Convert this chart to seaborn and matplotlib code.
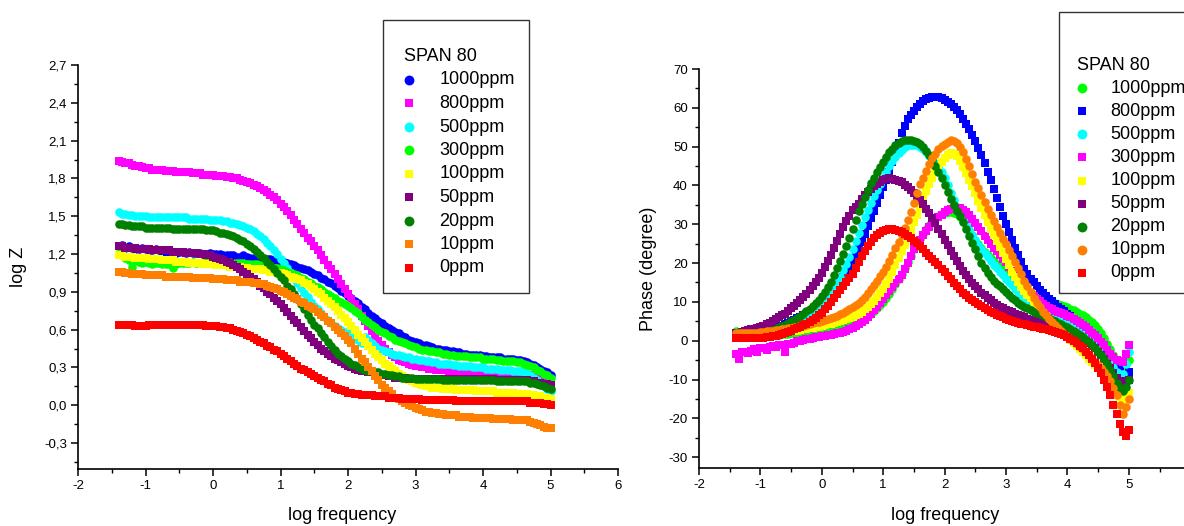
import numpy as np
import pandas as pd
import matplotlib
matplotlib.use("Agg")
import matplotlib.pyplot as plt
import seaborn as sns
from matplotlib.ticker import MultipleLocator, FuncFormatter
from matplotlib.patches import Rectangle

sns.set_theme(style="ticks")
plt.rcParams['font.family'] = ['Liberation Sans', 'DejaVu Sans']
plt.rcParams['axes.unicode_minus'] = False

# ---------------- data ----------------
log_freq = [-1.40, -1.35, -1.30, -1.25, -1.20, -1.15, -1.10, -1.05, -1.00, -0.95,
            -0.90, -0.85, -0.80, -0.75, -0.70, -0.65, -0.60, -0.55, -0.50, -0.45,
            -0.40, -0.35, -0.30, -0.25, -0.20, -0.15, -0.10, -0.05, 0.00, 0.05,
            0.10, 0.15, 0.20, 0.25, 0.30, 0.35, 0.40, 0.45, 0.50, 0.55,
            0.60, 0.65, 0.70, 0.75, 0.80, 0.85, 0.90, 0.95, 1.00, 1.05,
            1.10, 1.15, 1.20, 1.25, 1.30, 1.35, 1.40, 1.45, 1.50, 1.55,
            1.60, 1.65, 1.70, 1.75, 1.80, 1.85, 1.90, 1.95, 2.00, 2.05,
            2.10, 2.15, 2.20, 2.25, 2.30, 2.35, 2.40, 2.45, 2.50, 2.55,
            2.60, 2.65, 2.70, 2.75, 2.80, 2.85, 2.90, 2.95, 3.00, 3.05,
            3.10, 3.15, 3.20, 3.25, 3.30, 3.35, 3.40, 3.45, 3.50, 3.55,
            3.60, 3.65, 3.70, 3.75, 3.80, 3.85, 3.90, 3.95, 4.00, 4.05,
            4.10, 4.15, 4.20, 4.25, 4.30, 4.35, 4.40, 4.45, 4.50, 4.55,
            4.60, 4.65, 4.70, 4.75, 4.80, 4.85, 4.90, 4.95, 5.00]

concentrations = ["1000ppm", "800ppm", "500ppm", "300ppm", "100ppm",
                  "50ppm", "20ppm", "10ppm", "0ppm"]

# ---- log Z (left panel) ----
logz_1000 = [1.26, 1.27, 1.25, 1.26, 1.25, 1.24, 1.24, 1.25, 1.24, 1.23,
             1.23, 1.24, 1.23, 1.22, 1.22, 1.23, 1.22, 1.21, 1.22, 1.22,
             1.21, 1.22, 1.21, 1.21, 1.21, 1.20, 1.20, 1.21, 1.20, 1.20,
             1.20, 1.19, 1.19, 1.19, 1.19, 1.18, 1.18, 1.19, 1.18, 1.17,
             1.17, 1.17, 1.17, 1.16, 1.16, 1.16, 1.15, 1.15, 1.14, 1.14,
             1.13, 1.12, 1.11, 1.10, 1.09, 1.08, 1.07, 1.06, 1.04, 1.03,
             1.01, 1.00, 0.98, 0.97, 0.95, 0.93, 0.91, 0.89, 0.87, 0.85,
             0.83, 0.81, 0.78, 0.76, 0.73, 0.71, 0.69, 0.67, 0.65, 0.63,
             0.61, 0.60, 0.58, 0.57, 0.55, 0.54, 0.52, 0.51, 0.50, 0.49,
             0.48, 0.48, 0.47, 0.46, 0.45, 0.45, 0.44, 0.44, 0.43, 0.43,
             0.42, 0.42, 0.41, 0.41, 0.40, 0.40, 0.40, 0.40, 0.39, 0.39,
             0.38, 0.38, 0.38, 0.38, 0.37, 0.37, 0.37, 0.37, 0.36, 0.36,
             0.35, 0.34, 0.33, 0.32, 0.30, 0.29, 0.27, 0.26, 0.24]
logz_800 = [1.94, 1.93, 1.92, 1.92, 1.91, 1.90, 1.90, 1.89, 1.88, 1.88,
            1.87, 1.87, 1.87, 1.87, 1.86, 1.86, 1.86, 1.85, 1.85, 1.85,
            1.85, 1.85, 1.84, 1.84, 1.84, 1.83, 1.83, 1.83, 1.83, 1.82,
            1.82, 1.82, 1.81, 1.81, 1.80, 1.80, 1.79, 1.78, 1.77, 1.76,
            1.75, 1.74, 1.72, 1.71, 1.69, 1.67, 1.65, 1.63, 1.60, 1.57,
            1.54, 1.51, 1.47, 1.44, 1.40, 1.37, 1.33, 1.30, 1.26, 1.23,
            1.19, 1.15, 1.11, 1.08, 1.04, 1.00, 0.96, 0.92, 0.88, 0.84,
            0.80, 0.76, 0.71, 0.67, 0.63, 0.59, 0.55, 0.51, 0.48, 0.45,
            0.42, 0.40, 0.38, 0.36, 0.35, 0.34, 0.33, 0.32, 0.31, 0.31,
            0.30, 0.30, 0.29, 0.29, 0.28, 0.28, 0.28, 0.28, 0.27, 0.27,
            0.27, 0.27, 0.27, 0.27, 0.26, 0.26, 0.26, 0.26, 0.26, 0.26,
            0.26, 0.26, 0.25, 0.25, 0.25, 0.25, 0.25, 0.25, 0.25, 0.25,
            0.24, 0.24, 0.24, 0.24, 0.23, 0.22, 0.21, 0.20, 0.19]
logz_500 = [1.53, 1.52, 1.52, 1.51, 1.51, 1.50, 1.50, 1.50, 1.50, 1.49,
            1.49, 1.49, 1.49, 1.49, 1.49, 1.49, 1.49, 1.49, 1.49, 1.49,
            1.49, 1.48, 1.48, 1.48, 1.48, 1.48, 1.48, 1.47, 1.47, 1.47,
            1.47, 1.46, 1.46, 1.45, 1.45, 1.44, 1.43, 1.42, 1.41, 1.40,
            1.38, 1.36, 1.34, 1.32, 1.29, 1.26, 1.23, 1.20, 1.16, 1.13,
            1.09, 1.05, 1.01, 0.97, 0.93, 0.89, 0.86, 0.82, 0.79, 0.76,
            0.73, 0.70, 0.68, 0.65, 0.63, 0.61, 0.60, 0.58, 0.57, 0.56,
            0.55, 0.52, 0.49, 0.54, 0.52, 0.49, 0.47, 0.45, 0.44, 0.43,
            0.42, 0.41, 0.40, 0.40, 0.39, 0.38, 0.38, 0.37, 0.37, 0.36,
            0.36, 0.35, 0.35, 0.34, 0.34, 0.33, 0.33, 0.33, 0.33, 0.32,
            0.32, 0.31, 0.31, 0.31, 0.31, 0.30, 0.30, 0.30, 0.30, 0.29,
            0.29, 0.29, 0.29, 0.28, 0.28, 0.28, 0.28, 0.27, 0.27, 0.27,
            0.26, 0.25, 0.24, 0.22, 0.20, 0.17, 0.15, 0.13, 0.11]
logz_300 = [1.21, 1.19, 1.17, 1.15, 1.10, 1.15, 1.14, 1.13, 1.14, 1.13,
            1.12, 1.13, 1.13, 1.12, 1.12, 1.12, 1.09, 1.12, 1.13, 1.13,
            1.13, 1.13, 1.14, 1.13, 1.13, 1.14, 1.14, 1.14, 1.14, 1.14,
            1.14, 1.14, 1.14, 1.14, 1.13, 1.13, 1.13, 1.13, 1.12, 1.12,
            1.12, 1.12, 1.11, 1.11, 1.10, 1.10, 1.09, 1.09, 1.08, 1.07,
            1.06, 1.05, 1.04, 1.03, 1.01, 1.00, 0.98, 0.97, 0.95, 0.94,
            0.92, 0.90, 0.88, 0.87, 0.85, 0.83, 0.82, 0.80, 0.79, 0.77,
            0.75, 0.73, 0.70, 0.68, 0.66, 0.64, 0.62, 0.60, 0.58, 0.57,
            0.55, 0.54, 0.52, 0.51, 0.50, 0.49, 0.48, 0.47, 0.46, 0.45,
            0.44, 0.44, 0.43, 0.43, 0.42, 0.42, 0.41, 0.41, 0.40, 0.40,
            0.39, 0.39, 0.39, 0.39, 0.38, 0.38, 0.38, 0.38, 0.37, 0.37,
            0.37, 0.37, 0.36, 0.36, 0.35, 0.35, 0.35, 0.35, 0.34, 0.34,
            0.33, 0.32, 0.31, 0.30, 0.28, 0.27, 0.25, 0.24, 0.22]
logz_100 = [1.19, 1.19, 1.18, 1.18, 1.18, 1.17, 1.17, 1.17, 1.17, 1.16,
            1.16, 1.16, 1.16, 1.15, 1.15, 1.15, 1.15, 1.14, 1.14, 1.14,
            1.14, 1.13, 1.13, 1.13, 1.13, 1.12, 1.12, 1.12, 1.12, 1.11,
            1.11, 1.11, 1.11, 1.10, 1.10, 1.10, 1.10, 1.09, 1.09, 1.08,
            1.08, 1.08, 1.08, 1.07, 1.07, 1.06, 1.06, 1.05, 1.05, 1.04,
            1.03, 1.02, 1.01, 1.00, 0.99, 0.97, 0.96, 0.94, 0.92, 0.90,
            0.88, 0.85, 0.83, 0.80, 0.78, 0.75, 0.72, 0.69, 0.66, 0.63,
            0.60, 0.56, 0.53, 0.50, 0.47, 0.44, 0.41, 0.38, 0.36, 0.33,
            0.31, 0.29, 0.27, 0.25, 0.23, 0.21, 0.20, 0.19, 0.18, 0.17,
            0.16, 0.15, 0.15, 0.14, 0.14, 0.14, 0.13, 0.13, 0.13, 0.13,
            0.12, 0.12, 0.12, 0.12, 0.12, 0.12, 0.11, 0.11, 0.11, 0.11,
            0.11, 0.11, 0.10, 0.10, 0.10, 0.10, 0.10, 0.10, 0.09, 0.09,
            0.09, 0.09, 0.08, 0.08, 0.07, 0.07, 0.06, 0.06, 0.05]
logz_50 = [1.26, 1.26, 1.25, 1.25, 1.25, 1.25, 1.24, 1.24, 1.24, 1.24,
           1.23, 1.23, 1.23, 1.23, 1.23, 1.23, 1.22, 1.22, 1.22, 1.22,
           1.21, 1.21, 1.21, 1.21, 1.20, 1.20, 1.19, 1.19, 1.18, 1.17,
           1.16, 1.15, 1.14, 1.13, 1.11, 1.10, 1.08, 1.06, 1.04, 1.02,
           1.00, 0.98, 0.95, 0.93, 0.90, 0.88, 0.85, 0.83, 0.80, 0.77,
           0.74, 0.71, 0.68, 0.65, 0.62, 0.59, 0.56, 0.53, 0.50, 0.48,
           0.45, 0.43, 0.41, 0.39, 0.37, 0.36, 0.34, 0.33, 0.31, 0.30,
           0.29, 0.28, 0.27, 0.27, 0.26, 0.26, 0.25, 0.25, 0.24, 0.24,
           0.23, 0.23, 0.22, 0.22, 0.22, 0.22, 0.21, 0.21, 0.21, 0.21,
           0.21, 0.21, 0.21, 0.21, 0.21, 0.21, 0.21, 0.21, 0.21, 0.21,
           0.21, 0.21, 0.21, 0.21, 0.21, 0.21, 0.21, 0.21, 0.21, 0.21,
           0.21, 0.21, 0.20, 0.20, 0.20, 0.20, 0.20, 0.20, 0.20, 0.20,
           0.20, 0.20, 0.19, 0.19, 0.18, 0.18, 0.17, 0.17, 0.16]
logz_20 = [1.44, 1.44, 1.43, 1.43, 1.42, 1.42, 1.42, 1.42, 1.41, 1.41,
           1.41, 1.41, 1.41, 1.41, 1.41, 1.41, 1.40, 1.40, 1.40, 1.40,
           1.40, 1.40, 1.40, 1.40, 1.40, 1.40, 1.39, 1.39, 1.39, 1.38,
           1.37, 1.37, 1.36, 1.35, 1.34, 1.33, 1.31, 1.30, 1.28, 1.26,
           1.24, 1.22, 1.19, 1.17, 1.14, 1.11, 1.08, 1.05, 1.02, 0.99,
           0.95, 0.92, 0.88, 0.84, 0.80, 0.76, 0.72, 0.68, 0.64, 0.61,
           0.57, 0.54, 0.50, 0.47, 0.44, 0.41, 0.39, 0.37, 0.35, 0.33,
           0.32, 0.30, 0.29, 0.28, 0.27, 0.27, 0.26, 0.26, 0.25, 0.25,
           0.24, 0.24, 0.23, 0.23, 0.22, 0.22, 0.22, 0.22, 0.21, 0.21,
           0.21, 0.21, 0.21, 0.21, 0.21, 0.21, 0.20, 0.20, 0.20, 0.20,
           0.20, 0.20, 0.20, 0.20, 0.20, 0.20, 0.20, 0.20, 0.20, 0.20,
           0.20, 0.20, 0.19, 0.19, 0.19, 0.19, 0.19, 0.19, 0.19, 0.19,
           0.19, 0.19, 0.18, 0.18, 0.17, 0.16, 0.15, 0.14, 0.13]
logz_10 = [1.06, 1.06, 1.05, 1.05, 1.04, 1.04, 1.04, 1.04, 1.03, 1.03,
           1.03, 1.03, 1.03, 1.03, 1.02, 1.02, 1.02, 1.02, 1.02, 1.02,
           1.02, 1.02, 1.01, 1.01, 1.01, 1.01, 1.01, 1.01, 1.00, 1.00,
           1.00, 1.00, 0.99, 0.99, 0.99, 0.99, 0.98, 0.98, 0.98, 0.98,
           0.97, 0.97, 0.96, 0.96, 0.95, 0.94, 0.93, 0.92, 0.91, 0.90,
           0.88, 0.87, 0.85, 0.84, 0.82, 0.81, 0.79, 0.78, 0.76, 0.74,
           0.72, 0.70, 0.67, 0.65, 0.62, 0.60, 0.57, 0.55, 0.52, 0.49,
           0.45, 0.41, 0.37, 0.34, 0.30, 0.27, 0.23, 0.20, 0.16, 0.14,
           0.11, 0.09, 0.06, 0.05, 0.03, 0.02, 0.00, -0.01, -0.02, -0.03,
           -0.04, -0.05, -0.05, -0.06, -0.06, -0.07, -0.07, -0.08, -0.08, -0.08,
           -0.08, -0.09, -0.09, -0.09, -0.09, -0.10, -0.10, -0.10, -0.10, -0.10,
           -0.10, -0.11, -0.11, -0.11, -0.11, -0.11, -0.11, -0.12, -0.12, -0.12,
           -0.12, -0.12, -0.13, -0.14, -0.15, -0.16, -0.17, -0.18, -0.18]
logz_0 = [0.64, 0.64, 0.64, 0.64, 0.64, 0.63, 0.63, 0.63, 0.63, 0.64,
          0.64, 0.64, 0.64, 0.64, 0.64, 0.64, 0.64, 0.64, 0.64, 0.64,
          0.64, 0.64, 0.64, 0.64, 0.64, 0.64, 0.63, 0.63, 0.63, 0.63,
          0.62, 0.62, 0.61, 0.61, 0.60, 0.59, 0.58, 0.57, 0.56, 0.55,
          0.53, 0.52, 0.50, 0.49, 0.47, 0.46, 0.44, 0.43, 0.41, 0.39,
          0.37, 0.35, 0.33, 0.31, 0.29, 0.28, 0.26, 0.25, 0.23, 0.22,
          0.20, 0.19, 0.17, 0.16, 0.14, 0.13, 0.12, 0.11, 0.10, 0.10,
          0.09, 0.09, 0.08, 0.08, 0.08, 0.08, 0.07, 0.07, 0.07, 0.07,
          0.06, 0.06, 0.06, 0.06, 0.05, 0.05, 0.05, 0.05, 0.05, 0.05,
          0.04, 0.04, 0.04, 0.04, 0.04, 0.04, 0.04, 0.04, 0.04, 0.04,
          0.03, 0.03, 0.03, 0.03, 0.03, 0.03, 0.03, 0.03, 0.03, 0.03,
          0.03, 0.03, 0.03, 0.03, 0.03, 0.03, 0.03, 0.03, 0.03, 0.03,
          0.03, 0.03, 0.02, 0.02, 0.02, 0.02, 0.01, 0.01, 0.00]

# ---- Phase (right panel) ----
phase_1000 = [2.5, 2.0, 1.5, 1.4, 1.3, 1.2, 1.2, 1.2, 1.2, 1.2,
              1.3, 1.3, 1.4, 1.4, 1.5, 1.6, 1.7, 1.8, 1.9, 2.0,
              2.1, 2.2, 2.3, 2.4, 2.5, 2.6, 2.7, 2.8, 2.9, 3.0,
              3.2, 3.3, 3.5, 3.6, 3.8, 4.0, 4.2, 4.4, 4.7, 5.0,
              5.3, 5.7, 6.1, 6.5, 7.0, 7.6, 8.3, 9.1, 10.0, 11.0,
              12.0, 13.2, 14.5, 15.9, 17.3, 18.8, 20.3, 21.9, 23.5, 24.9,
              26.3, 27.6, 28.8, 29.9, 30.8, 31.6, 32.2, 32.7, 33.0, 33.2,
              33.2, 33.0, 32.6, 31.9, 31.0, 29.9, 28.6, 27.3, 26.0, 24.8,
              23.8, 22.9, 22.0, 21.2, 20.5, 19.8, 19.0, 18.3, 17.6, 16.8,
              16.0, 15.2, 14.5, 13.8, 13.2, 12.7, 12.2, 11.8, 11.5, 11.2,
              10.9, 10.6, 10.3, 10.0, 9.8, 9.5, 9.2, 8.9, 8.6, 8.2,
              7.8, 7.4, 7.0, 6.5, 6.0, 5.4, 4.8, 4.0, 3.0, 1.9,
              0.6, -0.8, -2.2, -3.6, -5.0, -5.9, -6.5, -6.0, -5.0]
phase_800 = [1.0, 1.0, 1.1, 1.2, 1.3, 1.4, 1.6, 1.8, 2.0, 2.2,
             2.5, 2.7, 3.0, 3.3, 3.6, 3.9, 4.3, 4.6, 5.0, 5.4,
             5.8, 6.2, 6.6, 7.0, 7.5, 8.0, 8.5, 9.0, 9.5, 10.4,
             11.3, 12.2, 13.2, 14.2, 15.2, 16.3, 17.5, 18.7, 20.0, 21.7,
             23.5, 25.5, 27.5, 29.5, 31.5, 33.5, 35.5, 37.5, 39.5, 41.5,
             43.5, 46.0, 48.5, 51.0, 53.5, 55.4, 57.0, 58.2, 59.2, 60.1,
             61.0, 61.7, 62.3, 62.6, 62.8, 62.9, 62.8, 62.5, 62.0, 61.6,
             61.0, 60.3, 59.5, 58.3, 57.0, 55.8, 54.5, 53.1, 51.5, 49.7,
             47.8, 45.7, 43.5, 41.3, 39.0, 36.8, 34.5, 32.2, 30.0, 28.0,
             26.0, 24.0, 22.0, 20.2, 18.5, 17.2, 16.0, 15.0, 14.0, 13.1,
             12.3, 11.5, 10.8, 10.1, 9.5, 8.8, 8.2, 7.6, 7.0, 6.3,
             5.7, 5.0, 4.3, 3.6, 2.8, 2.0, 1.2, 0.4, -0.4, -1.2,
             -2.0, -2.9, -3.8, -4.9, -6.0, -7.5, -9.0, -9.5, -8.0]
phase_500 = [1.0, 1.0, 1.0, 1.0, 1.1, 1.2, 1.3, 1.4, 1.6, 1.8,
             2.0, 2.2, 2.5, 2.7, 3.0, 3.3, 3.7, 4.1, 4.5, 4.9,
             5.4, 5.9, 6.4, 6.9, 7.5, 8.1, 8.8, 9.5, 10.2, 11.0,
             11.8, 12.8, 13.8, 15.1, 16.5, 18.1, 19.7, 21.6, 23.5, 25.6,
             27.8, 29.8, 31.8, 33.7, 35.5, 37.2, 38.8, 40.4, 42.0, 43.5,
             45.0, 46.2, 47.3, 48.3, 49.2, 49.8, 50.3, 50.5, 50.5, 50.3,
             50.0, 49.4, 48.6, 47.7, 46.8, 45.8, 44.8, 43.5, 42.0, 40.0,
             38.0, 36.2, 34.5, 33.0, 31.5, 30.0, 28.5, 27.2, 26.0, 24.7,
             23.5, 22.5, 21.5, 20.5, 19.5, 18.6, 17.8, 16.9, 16.0, 15.1,
             14.3, 13.4, 12.6, 11.8, 11.0, 10.3, 9.7, 9.1, 8.5, 8.0,
             7.5, 7.1, 6.7, 6.3, 6.0, 5.7, 5.4, 5.1, 4.8, 4.4,
             4.0, 3.6, 3.2, 2.7, 2.2, 1.5, 0.8, 0.0, -0.9, -1.9,
             -3.0, -4.2, -5.5, -6.8, -8.0, -8.5, -8.5, -6.0, -3.0]
phase_300 = [-3.5, -4.8, -3.0, -2.8, -3.2, -2.6, -2.2, -2.8, -1.8, -2.0,
             -2.5, -1.6, -1.4, -1.5, -1.0, -1.2, -3.0, -0.9, -0.8, -0.5,
             -0.2, 0.0, 0.2, 0.4, 0.5, 0.7, 0.9, 1.0, 1.2, 1.3,
             1.4, 1.5, 1.7, 1.9, 2.1, 2.3, 2.6, 2.9, 3.3, 3.7,
             4.2, 4.8, 5.4, 6.2, 7.0, 7.9, 8.8, 9.8, 10.8, 11.8,
             12.8, 13.8, 14.8, 15.8, 17.0, 18.5, 20.0, 21.8, 23.5, 24.8,
             26.0, 27.2, 28.3, 29.4, 30.3, 31.1, 31.8, 32.5, 33.2, 33.7,
             34.0, 34.3, 34.3, 34.1, 33.7, 33.1, 32.3, 31.3, 30.3, 29.3,
             28.2, 27.1, 26.0, 25.0, 24.0, 23.0, 22.0, 21.1, 20.2, 19.1,
             18.0, 16.7, 15.5, 14.6, 13.8, 13.0, 12.2, 11.5, 10.8, 10.1,
             9.5, 9.0, 8.5, 8.1, 7.7, 7.4, 7.1, 6.8, 6.4, 6.0,
             5.5, 5.0, 4.5, 4.0, 3.4, 2.8, 2.1, 1.4, 0.6, -0.3,
             -1.2, -2.3, -3.4, -4.3, -5.0, -5.3, -5.5, -3.5, -1.0]
phase_100 = [1.5, 1.5, 1.4, 1.4, 1.4, 1.4, 1.4, 1.4, 1.5, 1.5,
             1.6, 1.6, 1.7, 1.8, 1.9, 2.0, 2.1, 2.2, 2.4, 2.5,
             2.6, 2.7, 2.9, 3.0, 3.2, 3.3, 3.5, 3.6, 3.8, 4.0,
             4.2, 4.4, 4.6, 4.8, 5.0, 5.3, 5.6, 5.9, 6.2, 6.6,
             7.0, 7.5, 8.1, 8.7, 9.4, 10.3, 11.2, 12.2, 13.2, 14.6,
             16.0, 17.7, 19.5, 21.2, 23.0, 24.7, 26.5, 28.5, 30.5, 32.5,
             34.4, 36.5, 38.5, 40.3, 42.0, 43.5, 44.8, 46.0, 47.0, 47.8,
             48.3, 48.2, 47.5, 46.3, 44.8, 43.2, 41.5, 39.8, 38.0, 36.1,
             34.2, 32.3, 30.5, 28.9, 27.3, 25.7, 24.2, 22.6, 21.0, 19.4,
             17.8, 16.4, 15.0, 13.9, 12.8, 11.9, 11.0, 10.0, 9.0, 8.1,
             7.2, 6.3, 5.5, 4.7, 4.0, 3.2, 2.5, 1.7, 1.0, 0.2,
             -0.6, -1.4, -2.2, -3.0, -3.8, -4.6, -5.4, -6.2, -7.0, -7.8,
             -8.7, -9.6, -10.5, -11.7, -13.0, -14.5, -16.0, -15.0, -13.5]
phase_50 = [2.0, 2.1, 2.3, 2.5, 2.7, 2.9, 3.1, 3.3, 3.6, 3.9,
            4.3, 4.6, 5.0, 5.5, 6.0, 6.5, 7.0, 7.6, 8.3, 9.0,
            9.7, 10.5, 11.3, 12.1, 13.0, 14.0, 15.0, 16.2, 17.5, 19.0,
            20.5, 22.2, 24.0, 25.8, 27.5, 29.2, 30.8, 32.2, 33.6, 34.4,
            35.2, 36.4, 37.6, 38.4, 39.2, 39.8, 40.4, 40.9, 41.3, 41.6,
            41.8, 41.7, 41.5, 41.2, 40.8, 40.2, 39.6, 38.8, 38.0, 37.1,
            36.2, 35.1, 34.0, 32.8, 31.5, 30.2, 28.8, 27.4, 26.0, 24.6,
            23.2, 21.8, 20.5, 19.2, 18.0, 16.9, 15.8, 14.9, 14.0, 13.2,
            12.4, 11.7, 11.0, 10.4, 9.8, 9.3, 8.8, 8.4, 8.0, 7.6,
            7.3, 6.9, 6.6, 6.3, 6.0, 5.7, 5.4, 5.1, 4.8, 4.5,
            4.3, 4.1, 3.9, 3.7, 3.5, 3.2, 3.0, 2.8, 2.5, 2.2,
            1.8, 1.4, 1.0, 0.5, 0.0, -0.6, -1.3, -2.0, -2.8, -3.8,
            -4.8, -5.9, -7.0, -8.2, -9.5, -10.3, -11.0, -10.5, -10.0]
phase_20 = [0.9, 0.9, 1.0, 1.1, 1.2, 1.3, 1.5, 1.6, 1.8, 2.0,
            2.2, 2.4, 2.7, 3.0, 3.4, 3.7, 4.1, 4.5, 5.0, 5.4,
            5.9, 6.4, 7.0, 7.6, 8.2, 8.9, 9.6, 10.5, 11.5, 12.6,
            13.8, 15.2, 16.8, 18.6, 20.5, 22.4, 24.3, 26.5, 28.8, 31.1,
            33.3, 35.2, 37.0, 38.8, 40.5, 42.0, 43.5, 44.8, 46.0, 47.3,
            48.5, 49.5, 50.5, 51.0, 51.5, 51.7, 51.8, 51.7, 51.5, 51.2,
            50.8, 50.0, 49.0, 47.8, 46.5, 45.0, 43.5, 41.8, 40.0, 38.2,
            36.5, 35.0, 33.5, 32.0, 30.5, 28.8, 27.0, 25.2, 23.5, 21.7,
            20.0, 18.7, 17.5, 16.5, 15.5, 14.7, 14.0, 13.2, 12.5, 11.7,
            11.0, 10.4, 9.8, 9.3, 8.8, 8.3, 7.9, 7.5, 7.2, 6.8,
            6.5, 6.1, 5.8, 5.4, 5.0, 4.6, 4.2, 3.8, 3.4, 3.0,
            2.5, 2.0, 1.5, 0.9, 0.3, -0.4, -1.2, -2.0, -2.9, -3.8,
            -4.8, -6.1, -7.5, -9.2, -11.0, -12.2, -13.0, -12.0, -10.0]
phase_10 = [2.0, 2.0, 2.0, 2.0, 2.0, 2.0, 2.1, 2.1, 2.2, 2.3,
            2.4, 2.5, 2.6, 2.7, 2.8, 2.9, 3.0, 3.2, 3.3, 3.5,
            3.6, 3.8, 3.9, 4.1, 4.3, 4.5, 4.7, 4.9, 5.1, 5.3,
            5.6, 5.8, 6.1, 6.4, 6.8, 7.2, 7.6, 8.1, 8.6, 9.2,
            9.8, 10.5, 11.3, 12.2, 13.2, 14.3, 15.5, 16.6, 17.8, 19.1,
            20.5, 22.1, 23.8, 25.5, 27.2, 29.1, 31.0, 33.2, 35.5, 38.0,
            40.3, 42.0, 43.7, 45.4, 47.0, 48.2, 49.3, 50.1, 50.8, 51.3,
            51.6, 51.5, 51.0, 49.9, 48.5, 46.8, 45.0, 43.0, 41.0, 39.3,
            37.5, 35.7, 34.0, 32.4, 30.8, 29.3, 27.8, 26.3, 24.8, 23.3,
            21.8, 20.2, 18.7, 17.1, 15.5, 14.0, 12.5, 11.1, 9.8, 8.6,
            7.5, 6.5, 5.6, 4.8, 4.0, 3.2, 2.5, 1.8, 1.2, 0.5,
            -0.1, -0.8, -1.5, -2.2, -3.0, -3.8, -4.6, -5.4, -6.3, -7.1,
            -8.0, -9.2, -10.5, -12.2, -14.0, -16.5, -19.0, -17.0, -15.0]
phase_0 = [0.8, 0.7, 0.7, 0.7, 0.7, 0.7, 0.7, 0.7, 0.8, 0.8,
           0.9, 1.0, 1.1, 1.3, 1.5, 1.7, 2.0, 2.3, 2.6, 2.9,
           3.3, 3.6, 4.0, 4.4, 4.8, 5.3, 5.8, 6.5, 7.2, 8.1,
           9.0, 10.0, 11.0, 12.0, 13.0, 14.0, 15.0, 16.1, 17.3, 18.7,
           20.2, 21.7, 23.2, 24.4, 25.5, 26.4, 27.2, 27.7, 28.2, 28.5,
           28.7, 28.7, 28.5, 28.2, 27.9, 27.5, 27.0, 26.4, 25.8, 25.1,
           24.3, 23.5, 22.6, 21.8, 21.0, 20.2, 19.4, 18.5, 17.6, 16.7,
           15.8, 14.9, 14.0, 13.2, 12.4, 11.7, 11.0, 10.5, 10.0, 9.5,
           9.0, 8.5, 8.0, 7.5, 7.1, 6.7, 6.3, 6.0, 5.7, 5.4,
           5.1, 4.8, 4.6, 4.4, 4.2, 4.0, 3.8, 3.6, 3.5, 3.3,
           3.1, 3.0, 2.8, 2.6, 2.3, 2.1, 1.8, 1.4, 1.0, 0.5,
           0.0, -0.6, -1.3, -2.0, -2.8, -3.7, -4.6, -5.8, -7.0, -8.4,
           -10.0, -12.0, -14.0, -16.5, -19.0, -21.5, -23.5, -24.5, -23.0]

left_series = [logz_1000, logz_800, logz_500, logz_300, logz_100,
               logz_50, logz_20, logz_10, logz_0]
right_series = [phase_1000, phase_800, phase_500, phase_300, phase_100,
                phase_50, phase_20, phase_10, phase_0]

left_colors = ["#0000FF", "#FF00FF", "#00FFFF", "#00FF00", "#FFFF00",
               "#800080", "#008000", "#FF8000", "#FF0000"]
left_markers = ["o", "s", "o", "o", "s", "s", "o", "s", "s"]
right_colors = ["#00FF00", "#0000FF", "#00FFFF", "#FF00FF", "#FFFF00",
                "#800080", "#008000", "#FF8000", "#FF0000"]
right_markers = ["o", "s", "o", "s", "s", "s", "o", "o", "s"]


def comma_fmt(v, p):
    return ("%.1f" % (round(v, 2) + 0.0)).replace(".", ",")


# ---------------- figure ----------------
W, H = 1184, 526
fig = plt.figure(figsize=(W / 100, H / 100), dpi=100)
axL = fig.add_axes([78 / W, 1 - 469 / H, 540 / W, 404 / H])
axR = fig.add_axes([699 / W, 1 - 468 / H, 485 / W, 399 / H])


def size_for(m):
    return 38 if m == "o" else 31


for name, vals, col, mk in zip(concentrations, left_series, left_colors, left_markers):
    df = pd.DataFrame({"log frequency": log_freq, "log Z": vals})
    sns.scatterplot(data=df, x="log frequency", y="log Z", ax=axL, color=col,
                    marker=mk, s=size_for(mk), linewidth=0, label=name, legend=False)

for name, vals, col, mk in zip(concentrations, right_series, right_colors, right_markers):
    df = pd.DataFrame({"log frequency": log_freq, "Phase (degree)": vals})
    sns.scatterplot(data=df, x="log frequency", y="Phase (degree)", ax=axR, color=col,
                    marker=mk, s=size_for(mk), linewidth=0, label=name, legend=False)

# axes styling
for ax in (axL, axR):
    sns.despine(ax=ax)
    ax.set_facecolor("white")
    for sp in ("left", "bottom"):
        ax.spines[sp].set_color("black")
        ax.spines[sp].set_linewidth(1.2)
    ax.tick_params(axis="both", which="major", direction="out", length=5, width=1.1,
                   color="black", labelsize=9.5, labelcolor="black", pad=3)
    ax.tick_params(axis="both", which="minor", direction="out", length=3, width=1.0,
                   color="black")
    ax.grid(False)

axL.set_xlim(-2, 6)
axL.set_ylim(-0.506, 2.7)
axL.xaxis.set_major_locator(MultipleLocator(1))
axL.xaxis.set_minor_locator(MultipleLocator(0.5))
axL.yaxis.set_major_locator(MultipleLocator(0.3))
axL.yaxis.set_minor_locator(MultipleLocator(0.15))
axL.yaxis.set_major_formatter(FuncFormatter(comma_fmt))
axL.xaxis.set_major_formatter(FuncFormatter(lambda v, p: "%d" % round(v)))

axR.set_xlim(-2, -2 + 485 / 61.4)
axR.set_ylim(-32.8, 70)
axR.xaxis.set_major_locator(MultipleLocator(1))
axR.xaxis.set_minor_locator(MultipleLocator(0.5))
axR.yaxis.set_major_locator(MultipleLocator(10))
axR.yaxis.set_minor_locator(MultipleLocator(5))
axR.xaxis.set_major_formatter(FuncFormatter(lambda v, p: "%d" % round(v)))
axR.yaxis.set_major_formatter(FuncFormatter(lambda v, p: "%d" % round(v)))

axL.set_xlabel("log frequency", fontsize=13, color="black")
axL.set_ylabel("log Z", fontsize=13, color="black")
axR.set_xlabel("log frequency", fontsize=13, color="black")
axR.set_ylabel("Phase (degree)", fontsize=13, color="black")
axL.xaxis.set_label_coords(0.49, -0.094)
axL.yaxis.set_label_coords(-0.094, 0.5)
axR.xaxis.set_label_coords(0.507, -0.098)
axR.yaxis.set_label_coords(-0.087, 0.5)

# legend frames
fig.patches.append(Rectangle((383 / W, 1 - 293 / H), 146 / W, 273 / H,
                             transform=fig.transFigure, fill=False,
                             edgecolor="#333333", linewidth=1.0))
fig.patches.append(Rectangle((1059 / W, 1 - 293 / H), 200 / W, 281 / H,
                             transform=fig.transFigure, fill=False,
                             edgecolor="#333333", linewidth=1.0))

hL, lL = axL.get_legend_handles_labels()
hR, lR = axR.get_legend_handles_labels()

legL = fig.legend(hL, lL, title="SPAN 80", loc="upper left",
                  bbox_to_anchor=(403.6 / W, 1 - 48 / H), frameon=False,
                  fontsize=13, title_fontsize=13, alignment="left",
                  handlelength=0.6, handletextpad=1.37, labelspacing=0.36,
                  borderpad=0, borderaxespad=0, scatterpoints=1, markerscale=1.15)
legR = fig.legend(hR, lR, title="SPAN 80", loc="upper left",
                  bbox_to_anchor=(1076.6 / W, 1 - 57 / H), frameon=False,
                  fontsize=13, title_fontsize=13, alignment="left",
                  handlelength=0.6, handletextpad=1.26, labelspacing=0.335,
                  borderpad=0, borderaxespad=0, scatterpoints=1, markerscale=1.15)
for leg in (legL, legR):
    for t in leg.get_texts():
        t.set_color("black")
    leg.get_title().set_color("black")

fig.savefig("out.png", dpi=100, facecolor="white")
